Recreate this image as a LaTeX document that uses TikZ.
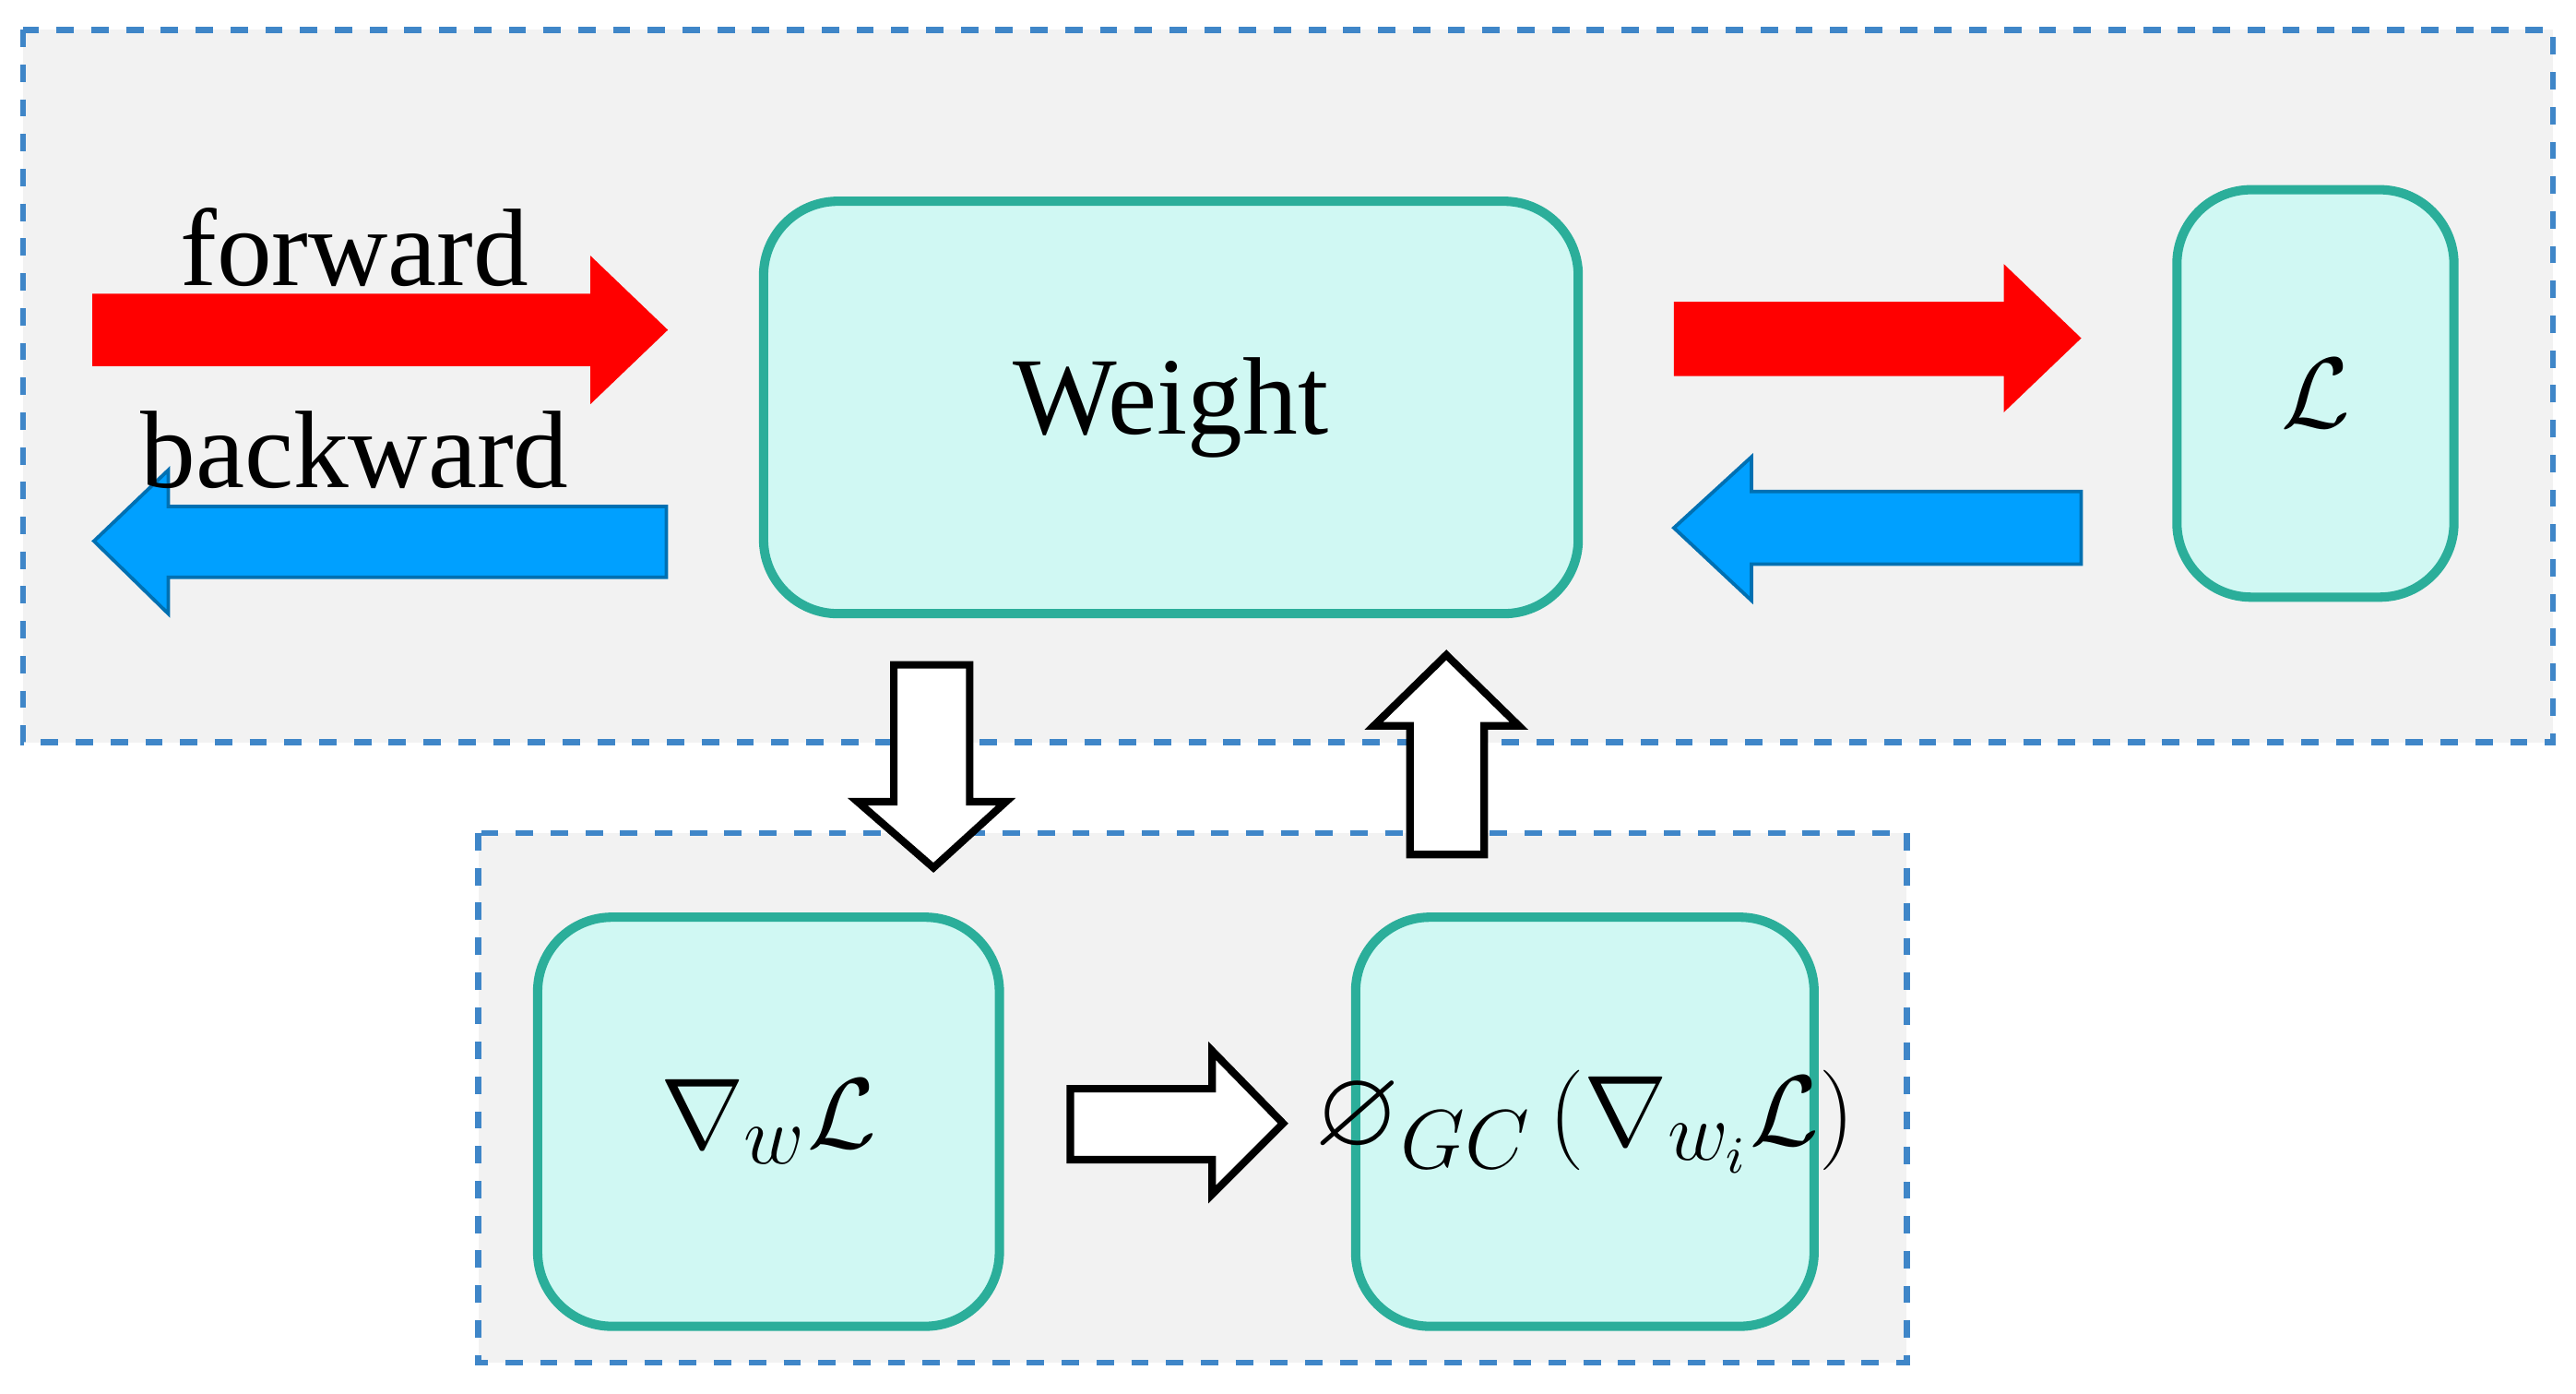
\documentclass[tikz,border=0pt]{standalone}
\usepackage{amssymb}
\usepackage{fontspec}
\setmainfont{Liberation Serif}
\definecolor{bx}{HTML}{D0F8F3}
\definecolor{bxd}{HTML}{2BAE9A}
\definecolor{bg}{HTML}{F2F2F2}
\definecolor{dsh}{HTML}{3F86C8}
\definecolor{rd}{HTML}{FF0000}
\definecolor{bl}{HTML}{00A0FF}
\begin{document}
\begin{tikzpicture}[x=0.1mm,y=-0.1mm,
  grp/.style={fill=bg,draw=dsh,dashed,line width=1.1pt},
  box/.style={fill=bx,draw=bxd,line width=1.6pt,rounded corners=4.5mm},
  lbl/.style={font=\fontsize{19}{22}\selectfont},
  warr/.style={fill=white,draw=black,line width=1.3pt}]
\useasboundingbox (0,0) rectangle (1562,845);
\fill[white] (0,0) rectangle (1562,845);
\draw[grp] (14,18) rectangle (1548,450);
\draw[grp] (290,505) rectangle (1156,826);
\draw[box] (463,122) rectangle (957,372) node[midway,lbl] (w) {Weight};
\draw[box] (1320,115) rectangle (1488,362) node[midway,lbl] (l) {$\mathcal{L}$};
\draw[box] (326,556) rectangle (606,804) node[midway,lbl] (g) {$\nabla_{w}\mathcal{L}$};
\draw[box] (822,556) rectangle (1100,804) node[midway,lbl] (p) {$\varnothing_{GC}\left(\nabla_{w_i}\mathcal{L}\right)$};
% red / blue arrows
\fill[rd] (56,178) -- (358,178) -- (358,155) -- (405,200) -- (358,245) -- (358,222) -- (56,222) -- cycle;
\draw[bl!70!black,fill=bl,line width=0.6pt] (404,307) -- (102,307) -- (102,285) -- (57,328) -- (102,372) -- (102,350) -- (404,350) -- cycle;
\fill[rd] (1015,183) -- (1215,183) -- (1215,160) -- (1262,205) -- (1215,250) -- (1215,228) -- (1015,228) -- cycle;
\draw[bl!70!black,fill=bl,line width=0.6pt] (1262,298) -- (1062,298) -- (1062,277) -- (1015,320) -- (1062,364) -- (1062,342) -- (1262,342) -- cycle;
\node[lbl] (fw) at (215,150) {forward};
\node[lbl] (bw) at (215,273) {backward};
% white arrows
\draw[warr] (542,403) -- (588,403) -- (588,486) -- (610,486) -- (566,526) -- (520,486) -- (542,486) -- cycle;
\draw[warr] (855,518) -- (900,518) -- (900,440) -- (921,440) -- (877,397) -- (833,440) -- (855,440) -- cycle;
\draw[warr] (649,660) -- (735,660) -- (735,637) -- (778,681) -- (735,724) -- (735,703) -- (649,703) -- cycle;
\end{tikzpicture}
\end{document}
